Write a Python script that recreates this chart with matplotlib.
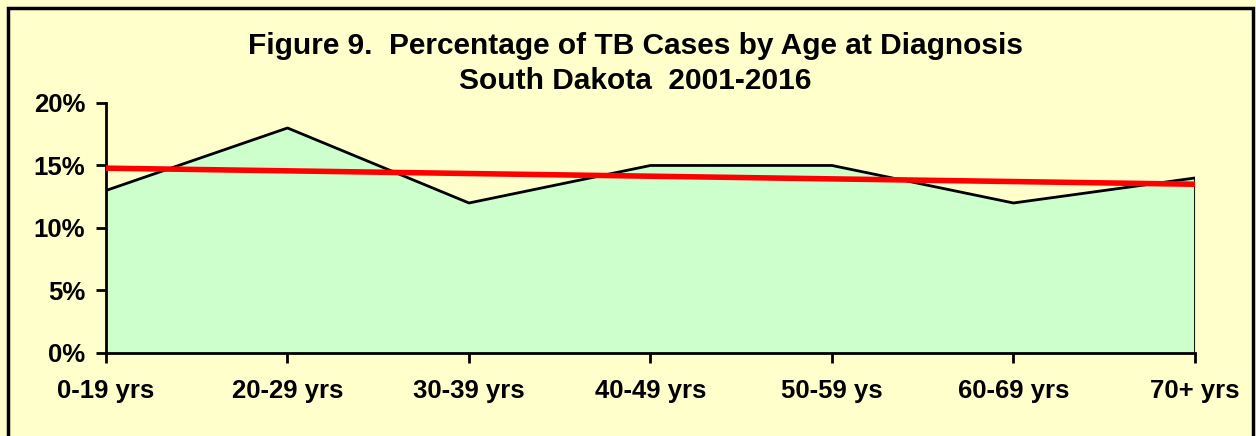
import numpy as np
import matplotlib
matplotlib.use("Agg")
import matplotlib.pyplot as plt
from matplotlib.patches import Rectangle

plt.rcParams['font.family'] = ['Liberation Sans', 'DejaVu Sans']

age_groups = ["0-19 yrs", "20-29 yrs", "30-39 yrs", "40-49 yrs",
              "50-59 ys", "60-69 yrs", "70+ yrs"]
pct_cases = [13, 18, 12, 15, 15, 12, 14]
y_ticks = [0, 5, 10, 15, 20]

BG = "#FFFFCC"
FILL = "#CCFFCC"

fig = plt.figure(figsize=(12.56, 4.36), dpi=100, facecolor=BG)
ax = fig.add_axes([0.0844, 0.1904, 0.867, 0.5734])
ax.set_facecolor(BG)

x = np.arange(len(age_groups))
ax.fill_between(x, pct_cases, 0, color=FILL, zorder=1)
ax.plot(x, pct_cases, color="black", lw=2, zorder=2)
ax.vlines(x[-1], 0, pct_cases[-1], color="black", lw=2, zorder=2)

# linear trend line
slope, intercept = np.polyfit(x, pct_cases, 1)
ax.plot(x, slope * x + intercept, color="#FF0000", lw=4, zorder=3)

ax.set_xlim(0, len(age_groups) - 1)
ax.set_ylim(0, 20)
ax.set_xticks(x)
ax.set_xticklabels(age_groups, fontsize=18.5, fontweight="bold")
ax.set_yticks(y_ticks)
ax.set_yticklabels([f"{v}%" for v in y_ticks], fontsize=18.5, fontweight="bold")
ax.tick_params(axis="both", direction="out", length=7, width=2, color="black")
ax.tick_params(axis="x", pad=12)
ax.tick_params(axis="y", pad=8)

for side in ["top", "right"]:
    ax.spines[side].set_visible(False)
ax.spines["left"].set_linewidth(2)
ax.spines["bottom"].set_linewidth(2)
ax.set_clip_on(False)

fig.text(0.506, 0.895, "Figure 9.  Percentage of TB Cases by Age at Diagnosis",
         ha="center", va="center", fontsize=21.5, fontweight="bold")
fig.text(0.506, 0.815, "South Dakota  2001-2016",
         ha="center", va="center", fontsize=21.5, fontweight="bold")

# outer chart border
fig.patches.append(Rectangle((8 / 1256, -0.05), 1245 / 1256, 1.05 - 8 / 436,
                             transform=fig.transFigure, fill=False,
                             edgecolor="black", lw=2.5))

fig.savefig("out.png", dpi=100, facecolor=BG)
